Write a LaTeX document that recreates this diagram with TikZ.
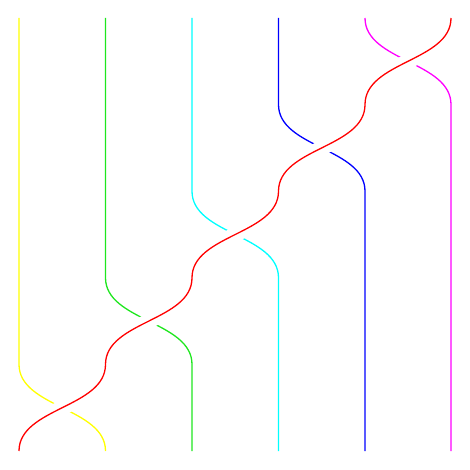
\documentclass[tikz,border=0pt]{standalone}
\definecolor{bYellow}{RGB}{255,255,0}
\definecolor{bGreen}{RGB}{30,230,30}
\definecolor{bCyan}{RGB}{0,255,255}
\definecolor{bBlue}{RGB}{0,0,255}
\definecolor{bMagenta}{RGB}{255,0,255}
\definecolor{bRed}{RGB}{255,0,0}
\begin{document}
\begin{tikzpicture}[x=1pt,y=-1pt,
  strand/.style={line width=1.3pt},
  over/.style={strand, preaction={draw=white, line width=15pt}}]
\useasboundingbox (0,0) rectangle (469,470);
% columns and rows
\def\ca{19}\def\cb{105.5}\def\cc{192}\def\cd{278.5}\def\ce{365}\def\cf{451}
\def\ra{18}\def\rb{104.6}\def\rc{191.2}\def\rd{277.8}\def\re{364.4}\def\rf{451}
% yellow
\draw[strand, bYellow] (\ca,\ra) -- (\ca,\re) .. controls (\ca,407.7) and (\cb,407.7) .. (\cb,\rf);
% green
\draw[strand, bGreen] (\cb,\ra) -- (\cb,\rd) .. controls (\cb,321.1) and (\cc,321.1) .. (\cc,\re) -- (\cc,\rf);
% cyan
\draw[strand, bCyan] (\cc,\ra) -- (\cc,\rc) .. controls (\cc,234.5) and (\cd,234.5) .. (\cd,\rd) -- (\cd,\rf);
% blue
\draw[strand, bBlue] (\cd,\ra) -- (\cd,\rb) .. controls (\cd,147.9) and (\ce,147.9) .. (\ce,\rc) -- (\ce,\rf);
% magenta
\draw[strand, bMagenta] (\ce,\ra) .. controls (\ce,61.3) and (\cf,61.3) .. (\cf,\rb) -- (\cf,\rf);
% red over everything
\draw[over, bRed] (\cf,\ra)
  .. controls (\cf,61.3) and (\ce,61.3) .. (\ce,\rb)
  .. controls (\ce,147.9) and (\cd,147.9) .. (\cd,\rc)
  .. controls (\cd,234.5) and (\cc,234.5) .. (\cc,\rd)
  .. controls (\cc,321.1) and (\cb,321.1) .. (\cb,\re)
  .. controls (\cb,407.7) and (\ca,407.7) .. (\ca,\rf);
\end{tikzpicture}
\end{document}
